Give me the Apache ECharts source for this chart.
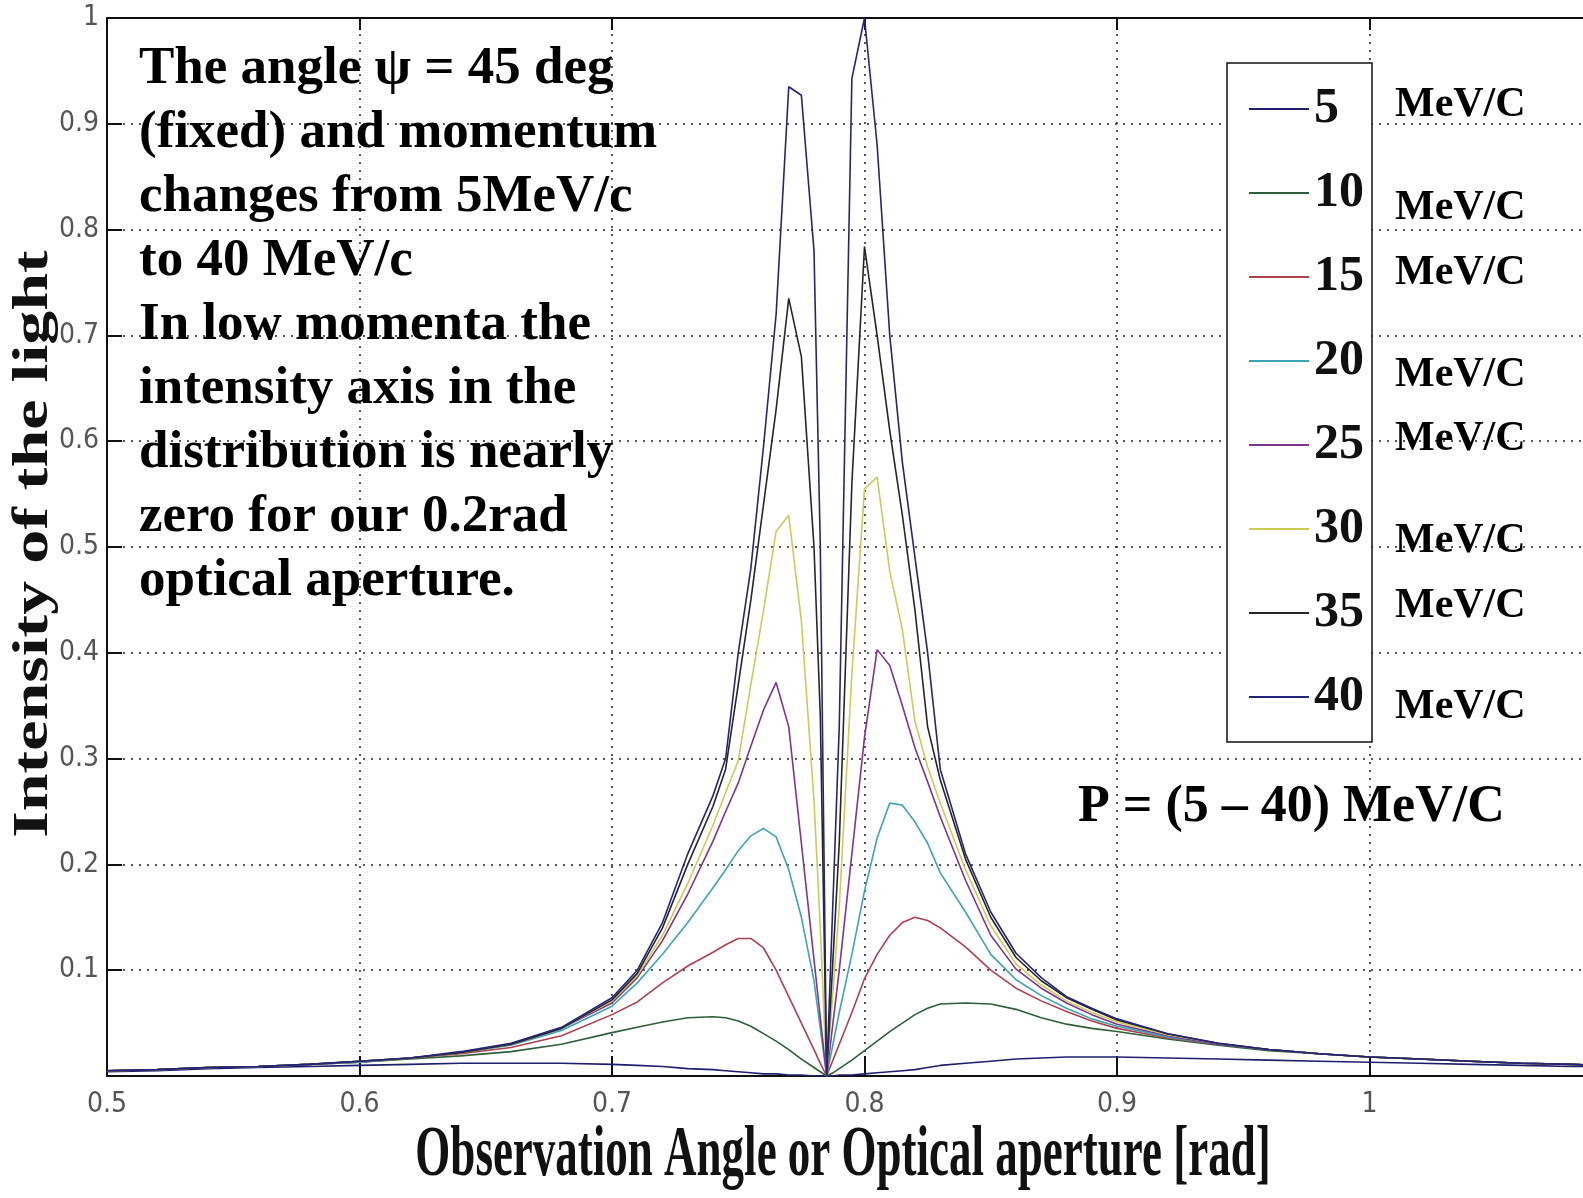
<!DOCTYPE html>
<html>
<head>
<meta charset="utf-8">
<title>Intensity of the light</title>
<script src="https://cdn.jsdelivr.net/npm/echarts@6/dist/echarts.min.js"></script>
<style>
  html, body { margin: 0; padding: 0; background: #fff; }
  #chart { width: 1583px; height: 1198px; }
</style>
</head>
<body>
<div id="chart"></div>
<script>
// observation angle [rad]
var angles = [0.50, 0.52, 0.54, 0.56, 0.58, 0.60, 0.62, 0.64, 0.66, 0.68,
  0.70, 0.71, 0.72, 0.73, 0.74, 0.745, 0.75, 0.755, 0.76, 0.765,
  0.77, 0.775, 0.78, 0.7825, 0.785, 0.7875, 0.79, 0.795, 0.80, 0.805,
  0.81, 0.815, 0.82, 0.825, 0.83, 0.84, 0.85, 0.86, 0.87, 0.88,
  0.89, 0.90, 0.92, 0.94, 0.96, 0.98, 1.00, 1.02, 1.04, 1.06,
  1.08, 1.09];

var momenta = ['5', '10', '15', '20', '25', '30', '35', '40'];

var p5 = [0.004, 0.005, 0.007, 0.008, 0.009, 0.010, 0.011, 0.012, 0.012, 0.012,
  0.011, 0.010, 0.009, 0.007, 0.006, 0.005, 0.004, 0.003, 0.002, 0.002,
  0.001, 0.001, 0.000, 0.000, 0.000, 0.000, 0.001, 0.001, 0.002, 0.003,
  0.004, 0.005, 0.006, 0.008, 0.010, 0.012, 0.014, 0.016, 0.017, 0.018,
  0.018, 0.018, 0.017, 0.016, 0.015, 0.014, 0.013, 0.012, 0.011, 0.010,
  0.009, 0.009];
var p10 = [0.005, 0.006, 0.008, 0.009, 0.011, 0.013, 0.016, 0.019, 0.023, 0.030,
  0.041, 0.046, 0.051, 0.055, 0.056, 0.055, 0.052, 0.047, 0.040, 0.033,
  0.025, 0.016, 0.008, 0.004, 0.000, 0.003, 0.007, 0.015, 0.024, 0.033,
  0.042, 0.050, 0.058, 0.064, 0.068, 0.069, 0.068, 0.063, 0.055, 0.049,
  0.045, 0.042, 0.035, 0.029, 0.024, 0.021, 0.018, 0.016, 0.014, 0.012,
  0.011, 0.010];
var p15 = [0.005, 0.006, 0.008, 0.009, 0.011, 0.013, 0.017, 0.021, 0.027, 0.038,
  0.058, 0.070, 0.088, 0.104, 0.117, 0.124, 0.130, 0.130, 0.121, 0.100,
  0.075, 0.050, 0.025, 0.012, 0.000, 0.015, 0.030, 0.060, 0.092, 0.115,
  0.133, 0.145, 0.150, 0.147, 0.140, 0.122, 0.100, 0.083, 0.071, 0.061,
  0.052, 0.045, 0.036, 0.030, 0.025, 0.021, 0.018, 0.016, 0.014, 0.012,
  0.011, 0.010];
var p20 = [0.005, 0.006, 0.008, 0.009, 0.011, 0.013, 0.017, 0.022, 0.029, 0.043,
  0.066, 0.088, 0.115, 0.145, 0.178, 0.195, 0.213, 0.227, 0.234, 0.226,
  0.195, 0.150, 0.090, 0.045, 0.000, 0.030, 0.060, 0.115, 0.175, 0.225,
  0.258, 0.256, 0.240, 0.220, 0.192, 0.155, 0.115, 0.091, 0.076, 0.064,
  0.054, 0.047, 0.037, 0.030, 0.025, 0.021, 0.018, 0.016, 0.014, 0.012,
  0.011, 0.010];
var p25 = [0.005, 0.006, 0.008, 0.009, 0.011, 0.014, 0.017, 0.022, 0.030, 0.045,
  0.069, 0.093, 0.128, 0.172, 0.222, 0.250, 0.277, 0.312, 0.346, 0.372,
  0.330, 0.220, 0.110, 0.055, 0.000, 0.050, 0.100, 0.210, 0.320, 0.403,
  0.388, 0.350, 0.310, 0.278, 0.245, 0.185, 0.133, 0.101, 0.083, 0.069,
  0.058, 0.049, 0.038, 0.030, 0.025, 0.021, 0.018, 0.016, 0.014, 0.012,
  0.011, 0.010];
var p30 = [0.005, 0.006, 0.008, 0.009, 0.011, 0.014, 0.017, 0.022, 0.030, 0.045,
  0.071, 0.095, 0.133, 0.182, 0.237, 0.268, 0.298, 0.370, 0.440, 0.515,
  0.530, 0.430, 0.260, 0.140, 0.000, 0.080, 0.160, 0.380, 0.555, 0.566,
  0.477, 0.422, 0.335, 0.292, 0.258, 0.195, 0.142, 0.106, 0.086, 0.071,
  0.060, 0.051, 0.039, 0.031, 0.025, 0.021, 0.018, 0.016, 0.014, 0.012,
  0.011, 0.010];
var p35 = [0.005, 0.006, 0.008, 0.009, 0.011, 0.014, 0.017, 0.022, 0.030, 0.045,
  0.072, 0.097, 0.140, 0.200, 0.255, 0.290, 0.370, 0.450, 0.540, 0.630,
  0.735, 0.680, 0.500, 0.340, 0.000, 0.110, 0.220, 0.560, 0.784, 0.700,
  0.610, 0.530, 0.440, 0.330, 0.280, 0.205, 0.150, 0.112, 0.090, 0.074,
  0.063, 0.053, 0.040, 0.031, 0.025, 0.021, 0.018, 0.016, 0.014, 0.012,
  0.011, 0.010];
var p40 = [0.005, 0.006, 0.008, 0.009, 0.011, 0.014, 0.017, 0.023, 0.031, 0.046,
  0.074, 0.100, 0.145, 0.210, 0.265, 0.300, 0.400, 0.480, 0.595, 0.720,
  0.935, 0.927, 0.780, 0.500, 0.000, 0.165, 0.330, 0.943, 1.000, 0.880,
  0.700, 0.580, 0.490, 0.400, 0.290, 0.210, 0.155, 0.116, 0.093, 0.075,
  0.064, 0.054, 0.040, 0.031, 0.025, 0.021, 0.018, 0.016, 0.014, 0.012,
  0.011, 0.010];

var curves = [p5, p10, p15, p20, p25, p30, p35, p40];
var colors = ['#1f1f70', '#2f5f3a', '#b04050', '#3aa6b2', '#7d3590', '#cccc55', '#262626', '#24247c'];

var unitLabels = ['MeV/C', 'MeV/C', 'MeV/C', 'MeV/C', 'MeV/C', 'MeV/C', 'MeV/C', 'MeV/C'];
var unitY = [105, 208, 273, 375, 439, 541, 606, 707];

var noteText = 'The angle \u03c8 = 45 deg\n(fixed) and momentum\nchanges from 5MeV/c\nto 40 MeV/c\nIn low momenta the\nintensity axis in the\ndistribution is nearly\nzero for our 0.2rad\noptical aperture.';

var tickFont = "'Liberation Sans Narrow', 'DejaVu Sans Condensed', sans-serif";
var serif = "'Liberation Serif', 'Times New Roman', serif";

var myChart = echarts.init(document.getElementById('chart'));

function tickFmt(v) {
  if (v < 0.05 || v > 1.05) return '';
  return String(+v.toFixed(1));
}

var series = momenta.map(function (m, k) {
  return {
    name: m,
    type: 'line',
    data: angles.map(function (a, i) { return [a, curves[k][i]]; }),
    symbol: 'none',
    showSymbol: false,
    lineStyle: { width: 1.6, color: colors[k] },
    itemStyle: { color: colors[k] },
    z: 3 + k
  };
});

var graphics = [
  {
    type: 'text', x: 139, y: 37, z: 100,
    style: {
      text: noteText, fill: '#000',
      font: 'bold 53px ' + serif,
      lineHeight: 64,
      align: 'left', verticalAlign: 'top', textAlign: 'left', textVerticalAlign: 'top'
    }
  },
  {
    type: 'text', x: 1078, y: 808, z: 100,
    style: {
      text: 'P = (5 \u2013 40) MeV/C', fill: '#000',
      font: 'bold 52px ' + serif,
      align: 'left', verticalAlign: 'middle', textAlign: 'left', textVerticalAlign: 'middle'
    }
  },
  {
    type: 'text', x: 34, y: 544, rotation: Math.PI / 2, scaleX: 1.36, z: 100,
    style: {
      text: 'Intensity of the light', fill: '#111',
      font: 'bold 50px ' + serif,
      align: 'center', verticalAlign: 'middle', textAlign: 'center', textVerticalAlign: 'middle'
    }
  },
  {
    type: 'text', x: 843, y: 1157, scaleY: 1.58, z: 100,
    style: {
      text: 'Observation Angle or Optical aperture [rad]', fill: '#111',
      font: 'bold 45px ' + serif,
      align: 'center', verticalAlign: 'middle', textAlign: 'center', textVerticalAlign: 'middle'
    }
  }
];
unitLabels.forEach(function (t, i) {
  graphics.push({
    type: 'text', x: 1395, y: unitY[i], z: 100,
    style: {
      text: t, fill: '#000',
      font: 'bold 42px ' + serif,
      align: 'left', verticalAlign: 'middle', textAlign: 'left', textVerticalAlign: 'middle'
    }
  });
});

var axisLine = { show: true, onZero: false, lineStyle: { color: '#111', width: 2 } };
var gridLine = { show: true, lineStyle: { type: [2, 6], color: '#222', width: 1.5 } };

option = {
  backgroundColor: '#fff',
  animation: false,
  grid: { left: 107, top: 18, right: -39, bottom: 122, containLabel: false, outerBoundsMode: 'none' },
  legend: {
    data: momenta,
    orient: 'vertical',
    left: 1227,
    top: 63,
    padding: [16, 8, 15, 22],
    icon: 'rect',
    itemWidth: 60,
    itemHeight: 2,
    itemGap: 24,
    selectedMode: false,
    backgroundColor: '#fff',
    borderColor: '#111',
    borderWidth: 1.5,
    borderRadius: 0,
    textStyle: { fontFamily: serif, fontWeight: 'bold', fontSize: 50, lineHeight: 60, color: '#111' }
  },
  xAxis: [
    {
      type: 'value', min: 0.5, max: 1.1, interval: 0.1, position: 'bottom',
      axisLine: axisLine,
      axisTick: { show: true, inside: true, length: 20, lineStyle: { color: '#111', width: 2 } },
      axisLabel: { formatter: tickFmt, fontFamily: tickFont, fontSize: 28, color: '#555', margin: 15 },
      splitLine: gridLine
    },
    {
      type: 'value', min: 0.5, max: 1.1, interval: 0.1, position: 'top',
      axisLine: axisLine,
      axisTick: { show: true, inside: true, length: 12, lineStyle: { color: '#111', width: 2 } },
      axisLabel: { show: false },
      splitLine: { show: false }
    }
  ],
  yAxis: [
    {
      type: 'value', min: 0, max: 1, interval: 0.1,
      axisLine: axisLine,
      axisTick: { show: true, inside: true, length: 15, lineStyle: { color: '#111', width: 2 } },
      axisLabel: { formatter: tickFmt, fontFamily: tickFont, fontSize: 28, color: '#555', margin: 8 },
      splitLine: gridLine
    }
  ],
  series: series,
  graphic: graphics
};

myChart.setOption(option);

window.addEventListener('resize', function () {
  myChart.resize();
});
</script>
</body>
</html>
